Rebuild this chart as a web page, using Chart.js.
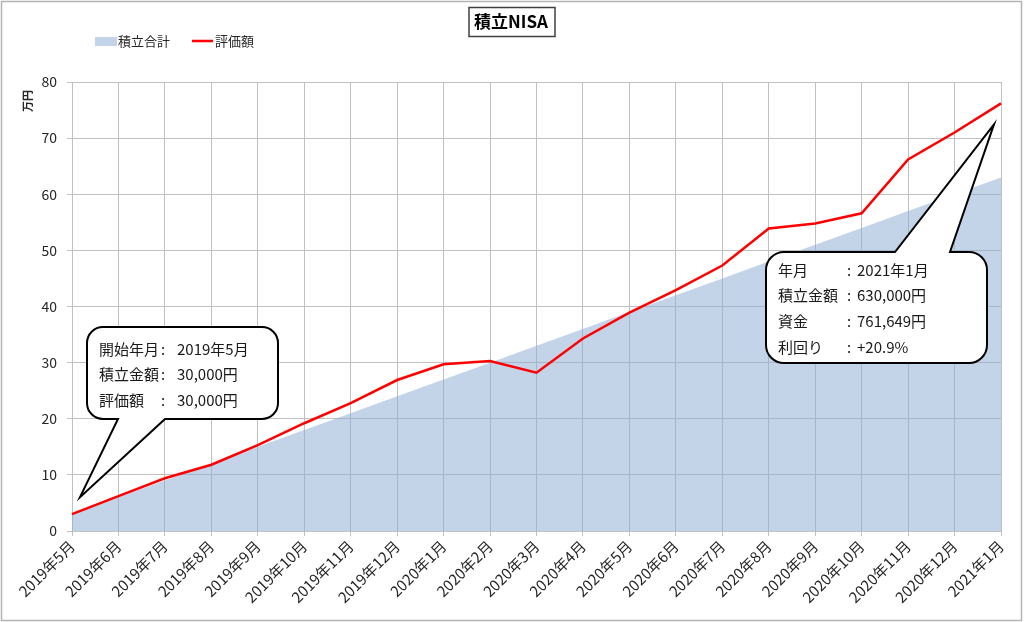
<!DOCTYPE html>
<html>
<head>
<meta charset="utf-8">
<script src="https://cdn.jsdelivr.net/npm/chart.js@4"></script>
<style>
  body { margin: 0; background: #fff; }
  canvas { display: block; }
</style>
</head>
<body>
<canvas id="chart" width="1024" height="622"></canvas>
<script>
/* =========================
   DATA
========================= */

const months = [
    "2019年5月", "2019年6月", "2019年7月", "2019年8月", "2019年9月",
    "2019年10月", "2019年11月", "2019年12月", "2020年1月", "2020年2月",
    "2020年3月", "2020年4月", "2020年5月", "2020年6月", "2020年7月",
    "2020年8月", "2020年9月", "2020年10月", "2020年11月", "2020年12月",
    "2021年1月"
];

// 万円
const totalInvested = [3, 6, 9, 12, 15, 18, 21, 24, 27, 30, 33, 36, 39, 42, 45, 48, 51, 54, 57, 60, 63];
const valuation = [3.0, 6.2, 9.4, 11.8, 15.3, 19.2, 22.8, 26.9, 29.7, 30.3, 28.2, 34.3, 38.9, 42.9, 47.3, 53.9, 54.8, 56.6, 66.2, 71.0, 76.2];

const yMin = 0;
const yMax = 80;
const yStep = 10;

const chartTitle = "積立NISA";
const yUnit = "万円";

const startNote = [["開始年月", "2019年5月"], ["積立金額", "30,000円"], ["評価額", "30,000円"]];
const endNote = [["年月", "2021年1月"], ["積立金額", "630,000円"], ["資金", "761,649円"], ["利回り", "+20.9%"]];

/* =========================
   STYLE
========================= */

const JP = '"Noto Sans CJK JP", "Noto Sans", sans-serif';
const gridColor = "#c0c0c0";
const areaColor = "rgba(140,170,210,0.52)";
const lineColor = "#ff0000";

/* =========================
   DECORATION PLUGIN
========================= */

function calloutPath(ctx, box, tip, notch) {
    const { x, y, w, h, r } = box;
    ctx.beginPath();
    ctx.moveTo(x + r, y);
    if (notch.side === "top") {
        ctx.lineTo(notch.a, y);
        ctx.lineTo(tip.x, tip.y);
        ctx.lineTo(notch.b, y);
    }
    ctx.arcTo(x + w, y, x + w, y + h, r);
    ctx.arcTo(x + w, y + h, x, y + h, r);
    if (notch.side === "bottom") {
        ctx.lineTo(notch.b, y + h);
        ctx.lineTo(tip.x, tip.y);
        ctx.lineTo(notch.a, y + h);
    }
    ctx.arcTo(x, y + h, x, y, r);
    ctx.arcTo(x, y, x + w, y, r);
    ctx.closePath();
}

function drawNote(ctx, lines, x0, colonX, valueX, yFirst, gap) {
    ctx.font = "15px " + JP;
    ctx.fillStyle = "#1a1a1a";
    ctx.textBaseline = "middle";
    lines.forEach((ln, i) => {
        const y = yFirst + i * gap;
        ctx.textAlign = "left";
        ctx.fillText(ln[0], x0, y);
        ctx.fillText(ln[1], valueX, y);
        ctx.textAlign = "center";
        ctx.fillText(":", colonX, y);
    });
}

const decorations = {
    id: "decorations",
    beforeDraw(chart) {
        const ctx = chart.ctx;
        ctx.save();
        ctx.fillStyle = "#fff";
        ctx.fillRect(0, 0, chart.width, chart.height);
        ctx.restore();
    },
    afterDraw(chart) {
        const ctx = chart.ctx;
        const xs = chart.scales.x;
        const ys = chart.scales.y;
        const area = chart.chartArea;

        ctx.save();

        // outer frame
        ctx.strokeStyle = "#b4b4b4";
        ctx.lineWidth = 1.5;
        ctx.strokeRect(1.5, 1.5, chart.width - 4, chart.height - 3);

        // title box
        ctx.font = "bold 17px " + JP;
        ctx.fillStyle = "#000";
        ctx.textAlign = "center";
        ctx.textBaseline = "middle";
        ctx.fillText(chartTitle, 511, 22);
        ctx.strokeStyle = "#404040";
        ctx.lineWidth = 1.5;
        ctx.strokeRect(469, 7.5, 86, 29);

        // legend
        ctx.fillStyle = areaColor;
        ctx.fillRect(95, 37, 22, 9);
        ctx.strokeStyle = lineColor;
        ctx.lineWidth = 2.5;
        ctx.beginPath();
        ctx.moveTo(192, 41);
        ctx.lineTo(213, 41);
        ctx.stroke();
        ctx.font = "13px " + JP;
        ctx.fillStyle = "#262626";
        ctx.textAlign = "left";
        ctx.fillText(chart.data.datasets[1].label, 118, 41);
        ctx.fillText(chart.data.datasets[0].label, 215, 41);

        // y unit
        ctx.save();
        ctx.translate(28, 101);
        ctx.rotate(-Math.PI / 2);
        ctx.font = "bold 11px " + JP;
        ctx.textAlign = "center";
        ctx.fillStyle = "#262626";
        ctx.fillText(yUnit, 0, 0);
        ctx.restore();

        // start callout
        const last = months.length - 1;
        const p0 = { x: xs.getPixelForValue(0), y: ys.getPixelForValue(valuation[0]) };
        const box1 = { x: p0.x + 15, y: area.top + 245, w: 191, h: 92, r: 16 };
        ctx.lineWidth = 2;
        ctx.strokeStyle = "#000";
        ctx.fillStyle = "#fff";
        calloutPath(ctx, box1, { x: p0.x + 8, y: p0.y - 17 }, { side: "bottom", a: box1.x + 31, b: box1.x + 78 });
        ctx.fill();
        ctx.stroke();
        drawNote(ctx, startNote, box1.x + 12, box1.x + 76, box1.x + 90, box1.y + 22, 25.5);

        // end callout
        const p1 = { x: xs.getPixelForValue(last), y: ys.getPixelForValue(valuation[last]) };
        const box2 = { x: area.right - 235, y: area.top + 170, w: 221, h: 111, r: 18 };
        calloutPath(ctx, box2, { x: p1.x - 7, y: p1.y + 21 }, { side: "top", a: box2.x + 129, b: box2.x + 184 });
        ctx.fillStyle = "#fff";
        ctx.fill();
        ctx.stroke();
        drawNote(ctx, endNote, box2.x + 12, box2.x + 83, box2.x + 91, box2.y + 18, 25.7);

        ctx.restore();
    }
};

/* =========================
   CHART
========================= */

new Chart(document.getElementById("chart"), {
    type: "line",
    data: {
        labels: months,
        datasets: [{
            label: "評価額",
            data: valuation,
            borderColor: lineColor,
            borderWidth: 2.5,
            pointRadius: 0,
            fill: false,
            tension: 0,
            order: 1
        }, {
            label: "積立合計",
            data: totalInvested,
            borderWidth: 0,
            borderColor: "rgba(0,0,0,0)",
            backgroundColor: areaColor,
            pointRadius: 0,
            fill: "origin",
            tension: 0,
            order: 2
        }]
    },
    options: {
        responsive: false,
        animation: false,
        events: [],
        layout: { padding: { left: 41, right: 23, top: 82, bottom: 0 } },
        plugins: {
            legend: { display: false },
            tooltip: { enabled: false }
        },
        scales: {
            x: {
                offset: false,
                grid: { color: gridColor, tickLength: 5 },
                border: { color: gridColor },
                ticks: {
                    autoSkip: false,
                    maxRotation: 45,
                    minRotation: 45,
                    padding: 1,
                    color: "#262626",
                    font: { size: 15, family: JP }
                },
                afterFit(s) { s.height = 91; }
            },
            y: {
                min: yMin,
                max: yMax,
                grid: { color: gridColor, tickLength: 5 },
                border: { color: gridColor },
                ticks: {
                    stepSize: yStep,
                    padding: 10,
                    color: "#262626",
                    font: { size: 14, family: JP }
                },
                afterFit(s) { s.width = 31; }
            }
        }
    },
    plugins: [decorations]
});
</script>
</body>
</html>
